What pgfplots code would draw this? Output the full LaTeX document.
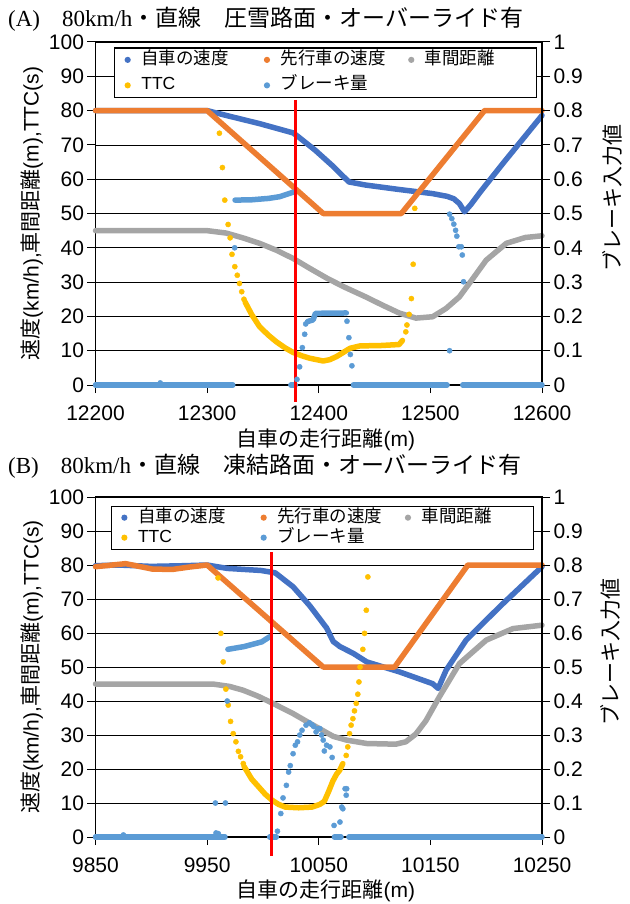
\documentclass[border=0pt]{standalone}
\usepackage{fontspec}
\usepackage{pgfplots}
\pgfplotsset{compat=1.18}
\setmainfont{Liberation Sans}
\newfontfamily\jp{Noto Sans CJK JP}
\newfontfamily\tms{Liberation Serif}
\definecolor{cBlue}{HTML}{4472C4}
\definecolor{cOrange}{HTML}{ED7D31}
\definecolor{cGray}{HTML}{A5A5A5}
\definecolor{cYellow}{HTML}{FFC000}
\definecolor{cLBlue}{HTML}{5B9BD5}
\pgfplotsset{
  base/.style={scale only axis, width=446.5pt, clip=false,
    tick align=outside, major tick length=8pt,
    tick style={black, line width=1pt},
    axis line style={black, line width=1.3pt},
    ticklabel style={font=\fontsize{21}{25}\selectfont},
    xticklabel style={yshift=-9pt},
    /pgf/number format/assume math mode=true,
    /pgf/number format/set thousands separator={},
    scaled ticks=false},
  dense/.style={line width=5.5pt, line cap=round, line join=round, forget plot},
  dots/.style={only marks, mark=*, mark size=2.6pt, mark options={draw=none}, forget plot},
  leg/.style={legend image code/.code={\fill[#1] (0pt,0pt) circle (2.4pt);}},
  legstyle/.style n args={5}{legend columns=3, legend cell align=left,
    legend style={at={(axis description cs:#1,#2)}, anchor=north west,
      draw=black, line width=1.3pt, fill=white, inner xsep=10pt, inner ysep=#4,
      font=\fontsize{17.5}{20}\selectfont, row sep=#3,
      nodes={text height=13pt, text depth=4pt, inner ysep=1pt, inner xsep=5.8pt},
      /tikz/every odd column/.append style={column sep=4.8pt},
      /tikz/every even column/.append style={column sep=16.8pt}}},
}
\newcommand{\legentries}{%
  \addlegendimage{leg=cBlue}\addlegendentry{\makebox[100pt][l]{\jp 自車の速度}}
  \addlegendimage{leg=cOrange}\addlegendentry{\makebox[105pt][l]{\jp 先行車の速度}}
  \addlegendimage{leg=cGray}\addlegendentry{\makebox[96pt][l]{\jp 車間距離}}
  \addlegendimage{leg=cYellow}\addlegendentry{TTC}
  \addlegendimage{leg=cLBlue}\addlegendentry{\jp ブレーキ量}
}
\begin{document}
\begin{tikzpicture}
\useasboundingbox (0pt,-904pt) rectangle (629pt,0pt);
% ---------- Titles
\node[anchor=base west, inner sep=0pt, font=\fontsize{23}{26}\selectfont] at (8pt,-27pt)
  {{\tms (A)}\hspace{22pt}{\tms 80km/h}{\jp ・直線　圧雪路面・オーバーライド有}};
\node[anchor=base west, inner sep=0pt, font=\fontsize{23}{26}\selectfont] at (8pt,-473pt)
  {{\tms (B)}\hspace{22pt}{\tms 80km/h}{\jp ・直線　凍結路面・オーバーライド有}};
% ================= Chart A: primary axis
\begin{axis}[base, at={(95.5pt,-385pt)}, anchor=south west, height=343pt,
  xmin=12200, xmax=12600, ymin=0, ymax=100,
  xtick={12200,12300,12400,12500,12600}, ytick={0,10,...,100},
  xtick pos=bottom, ytick pos=left,
  ymajorgrids, major grid style={black, line width=0.8pt},
  xlabel={{\jp 自車の走行距離}(m)},
  xlabel style={at={(axis description cs:0.516,-0.160)}, anchor=center, font=\fontsize{21}{25}\selectfont},
  ylabel={{\jp 速度}(km/h),{\jp 車間距離}(m),TTC(s)},
  ylabel style={at={(axis description cs:-0.1422,0.5)}, anchor=center, font=\fontsize{21}{25}\selectfont}]
\addplot[dense, cBlue] coordinates {(12200,80) (12300,80) (12317,78.6) (12347,76.2) (12377,73.5) (12382,72.3) (12397,68.4) (12412,64) (12427,59.2) (12442,58.3) (12472,57) (12502,55.8) (12515,55) (12521,54.3) (12526,52.9) (12530.6,50.5) (12536,52.5) (12545,56.4) (12555,60.5) (12566,65) (12577,69.4) (12589,74.2) (12600,78.6)};
\addplot[dense, cOrange] coordinates {(12200,80) (12300,80) (12404,50) (12474,50) (12548.5,80) (12600,80)};
\addplot[dense, cGray] coordinates {(12200,45) (12300,45) (12317,44.3) (12332,42.9) (12347,41.3) (12362,39.3) (12377,36.9) (12392,34) (12407,31.2) (12422,28.7) (12442,25.7) (12457,23.3) (12472,21) (12487,19.5) (12502,19.9) (12514,22.3) (12526,25.7) (12538,31) (12550,36.4) (12568,41.3) (12585,43) (12600,43.5)};
\addplot[dense, cYellow] coordinates {(12334,24.2) (12340,20.5) (12347,17) (12355,14.5) (12362,12.6) (12370,10.8) (12377,9.5) (12385,8.5) (12392,7.8) (12404,7.0) (12410,7.4) (12416,8.3) (12422,9.5) (12428,10.7) (12437,11.4) (12455,11.5) (12472,11.8) (12475,13)};
\addplot[dots, cYellow] coordinates {(12311,73.4) (12313.7,63.4) (12315.8,53.9) (12318.8,46.8) (12320.6,42.9) (12322.3,38.1) (12324.8,34.5) (12327,32) (12329,29.6) (12331,27.2) (12333,25) (12478,15.5) (12479,17.5) (12481,20.6) (12483,25.2) (12484.6,35.2) (12486,51.5)};
\end{axis}
% ================= Chart A: secondary axis
\begin{axis}[base, at={(95.5pt,-385pt)}, anchor=south west, height=343pt,
  xmin=12200, xmax=12600, ymin=0, ymax=1,
  hide x axis, axis y line*=right,
  ytick={0,0.1,0.2,0.3,0.4,0.5,0.6,0.7,0.8,0.9,1},
  ylabel={\jp ブレーキ入力値},
  ylabel style={at={(axis description cs:1.1568,0.5452)}, anchor=center, font=\fontsize{21}{25}\selectfont},
  legstyle={0.0414}{0.9845}{6.5pt}{2.4pt}{}]
\addplot[dense, cLBlue] coordinates {(12200,0) (12323,0)};
\addplot[dense, cLBlue] coordinates {(12375,0) (12379,0)};
\addplot[dense, cLBlue] coordinates {(12431,0) (12515,0)};
\addplot[dense, cLBlue] coordinates {(12529,0) (12600,0)};
\addplot[dense, cLBlue] coordinates {(12325,0.539) (12340,0.54) (12355,0.544) (12365,0.549) (12377,0.562)};
\addplot[dense, cLBlue] coordinates {(12390,0.185) (12395,0.19) (12397,0.209) (12424.7,0.21)};
\addplot[dots, cLBlue] coordinates {(12258,0.006) (12324.7,0.40) (12380.5,0.0165) (12382.9,0.053) (12385.3,0.109) (12387.4,0.148) (12388.3,0.178) (12425.3,0.186) (12427,0.138) (12428.3,0.089) (12429.7,0.056) (12517.2,0.10) (12517.2,0.498) (12519.2,0.485) (12521,0.469) (12522.6,0.451) (12523.7,0.434) (12525.5,0.403) (12527.7,0.403) (12528.6,0.379) (12529.7,0.301)};
\addplot[red, line width=3pt, forget plot] coordinates {(12379,0.831) (12379,-0.05)};
\legentries
\end{axis}
% ================= Chart B: primary axis
\begin{axis}[base, at={(95.5pt,-837pt)}, anchor=south west, height=340pt,
  xmin=9850, xmax=10250, ymin=0, ymax=100,
  xtick={9850,9950,10050,10150,10250}, ytick={0,10,...,100},
  xtick pos=bottom, ytick pos=left,
  ymajorgrids, major grid style={black, line width=0.8pt},
  xlabel={{\jp 自車の走行距離}(m)},
  xlabel style={at={(axis description cs:0.516,-0.158)}, anchor=center, font=\fontsize{21}{25}\selectfont},
  ylabel={{\jp 速度}(km/h),{\jp 車間距離}(m),TTC(s)},
  ylabel style={at={(axis description cs:-0.1422,0.5)}, anchor=center, font=\fontsize{21}{25}\selectfont}]
\addplot[dense, cBlue] coordinates {(9850,79.8) (9870,80) (9900,79.6) (9930,79.8) (9950,80) (9968,79) (9998,78.4) (10011,77.7) (10027,73.6) (10042,68) (10057,61.5) (10063,57.5) (10069,56) (10081,54) (10093,51.5) (10122,48.6) (10152,45.1) (10157,43.7) (10164,49) (10182,57.9) (10212,67.7) (10250,79.5)};
\addplot[dense, cOrange] coordinates {(9850,79.5) (9877,80.4) (9901,78.8) (9919,78.7) (9934,79.4) (9950,80) (10054,50) (10118,50) (10183.6,80) (10250,80)};
\addplot[dense, cGray] coordinates {(9850,45) (9955,45) (9970,44.3) (9982,43.2) (9995,41.5) (10009,39.3) (10027,36.3) (10045,32.9) (10063,29.6) (10075,28.5) (10093,27.5) (10119,27.3) (10128,28) (10137,30.3) (10146,34.2) (10158,41.2) (10176,51) (10200,57.9) (10224,61.3) (10250,62.3)};
\addplot[dense, cYellow] coordinates {(9983,20.8) (9990,17) (9996.3,14.7) (10002,12.6) (10008.3,10.8) (10014,9.6) (10020,8.8) (10032,8.6) (10044,8.8) (10051,9.6) (10055,10.5) (10059,13.5) (10062.7,16.5) (10066,18.5) (10068.7,19.6) (10071.6,21.6)};
\addplot[dots, cYellow] coordinates {(9959.8,76.2) (9962.3,59.9) (9964.4,51.5) (9966.8,43.5) (9968.9,38.8) (9971,34) (9973.4,30.4) (9975.8,28) (9978,25.2) (9980,23.6) (9982.4,21.6) (10074.6,24) (10076,26.5) (10077.6,30.4) (10079,32.9) (10080.6,34.8) (10082,37.1) (10083.6,39.3) (10085,42) (10086,45.6) (10087,50) (10089.5,55.2) (10091,59.9) (10092.6,66.7) (10094,76.5)};
\end{axis}
% ================= Chart B: secondary axis
\begin{axis}[base, at={(95.5pt,-837pt)}, anchor=south west, height=340pt,
  xmin=9850, xmax=10250, ymin=0, ymax=1,
  hide x axis, axis y line*=right,
  ytick={0,0.1,0.2,0.3,0.4,0.5,0.6,0.7,0.8,0.9,1},
  ylabel={\jp ブレーキ入力値},
  ylabel style={at={(axis description cs:1.1523,0.544)}, anchor=center, font=\fontsize{21}{25}\selectfont},
  legstyle={0.034}{0.975}{1pt}{2pt}{}]
\addplot[dense, cLBlue] coordinates {(9850,0) (9966,0)};
\addplot[dense, cLBlue] coordinates {(10006,0) (10012,0)};
\addplot[dense, cLBlue] coordinates {(10064,0) (10070,0)};
\addplot[dense, cLBlue] coordinates {(10077,0) (10250,0)};
\addplot[dense, cLBlue] coordinates {(9968.6,0.552) (9983,0.56) (9999,0.574) (10006,0.589)};
\addplot[dots, cLBlue] coordinates {(9875,0.006) (9958,0.012) (9960,0.01) (9957.4,0.10) (9966.4,0.10) (9968,0.40) (10013,0.017) (10016,0.069) (10018,0.115) (10021,0.152) (10023,0.191) (10024.5,0.21) (10027,0.245) (10029,0.27) (10031,0.28) (10033,0.30) (10035,0.314) (10038.6,0.329) (10041.6,0.336) (10044,0.33) (10045.5,0.325) (10047.6,0.309) (10049,0.318) (10051,0.319) (10052.5,0.30) (10054,0.285) (10055,0.253) (10057,0.27) (10060,0.265) (10062,0.234) (10063.7,0.034) (10069,0.044) (10070.6,0.088) (10071.6,0.083) (10073.6,0.142) (10074.6,0.123) (10075,0.142)};
\addplot[red, line width=3pt, forget plot] coordinates {(10007.6,0.838) (10007.6,-0.056)};
\legentries
\end{axis}
\end{tikzpicture}
\end{document}
